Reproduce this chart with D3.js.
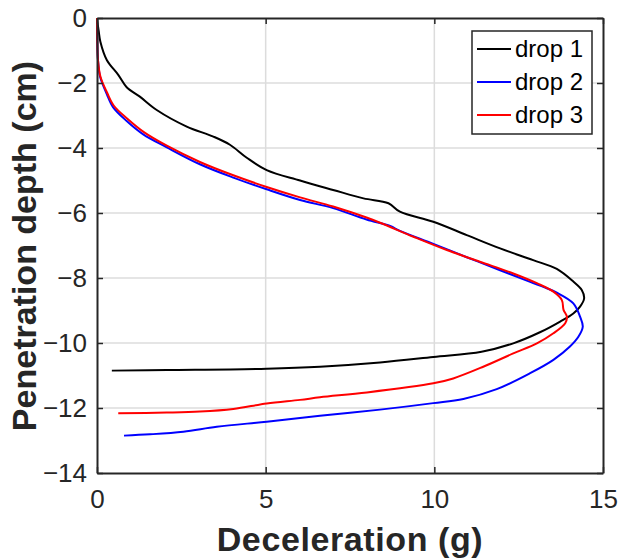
<!DOCTYPE html>
<html>
<head>
<meta charset="utf-8">
<script src="https://cdn.jsdelivr.net/npm/d3@7"></script>
<style>
  body { margin: 0; background: #fff; }
  svg { display: block; font-family: "Liberation Sans", Arial, sans-serif; }
</style>
</head>
<body>
<div id="chart"></div>
<script>
// deceleration (g), penetration depth (cm)
var drop1 = [[0,0],[0.05,-0.4],[0.1,-0.73],[0.29,-1.29],[0.63,-1.75],[0.88,-2.13],[1.27,-2.42],[1.77,-2.83],
  [2.66,-3.34],[3.45,-3.65],[3.94,-3.9],[4.44,-4.3],[5.03,-4.68],[6.02,-5.0],[7.0,-5.29],[7.9,-5.55],
  [8.64,-5.7],[8.98,-5.96],[9.97,-6.27],[10.96,-6.68],[11.95,-7.09],[12.93,-7.45],[13.63,-7.72],[14.12,-8.11],
  [14.37,-8.37],[14.44,-8.63],[14.32,-8.88],[14.12,-9.09],[13.73,-9.34],[13.13,-9.67],[12.34,-10.01],
  [11.4,-10.27],[9.97,-10.43],[8.39,-10.6],[6.61,-10.73],[5.03,-10.79],[2.07,-10.83],[0.44,-10.85]];
var drop2 = [[0,0],[0.01,-0.8],[0.03,-1.3],[0.09,-1.8],[0.29,-2.34],[0.48,-2.75],[0.88,-3.17],[1.37,-3.58],
  [2.07,-3.98],[3.05,-4.5],[4.04,-4.91],[5.03,-5.27],[6.02,-5.6],[7.0,-5.85],[7.99,-6.2],[8.69,-6.4],
  [8.98,-6.55],[9.97,-6.95],[10.96,-7.36],[11.95,-7.76],[12.84,-8.12],[13.3,-8.3],[13.63,-8.45],[14.12,-8.78],
  [14.32,-9.19],[14.4,-9.5],[14.27,-9.81],[14.02,-10.11],[13.53,-10.52],[12.84,-10.93],[11.85,-11.42],
  [10.86,-11.72],[9.97,-11.85],[8.39,-12.05],[6.61,-12.24],[5.03,-12.42],[3.55,-12.58],[2.56,-12.73],
  [1.57,-12.81],[0.8,-12.85]];
var drop3 = [[0,0],[0.01,-0.8],[0.03,-1.3],[0.1,-1.8],[0.3,-2.3],[0.5,-2.7],[0.9,-3.1],[1.4,-3.52],
  [2.07,-3.93],[3.05,-4.43],[4.04,-4.84],[5.03,-5.2],[6.02,-5.52],[7.0,-5.8],[7.99,-6.14],[8.39,-6.3],
  [9.38,-6.73],[10.37,-7.14],[11.35,-7.5],[12.34,-7.86],[13.04,-8.16],[13.53,-8.42],[13.78,-8.68],
  [13.83,-8.98],[13.93,-9.19],[13.88,-9.39],[13.53,-9.7],[13.04,-10.01],[12.34,-10.32],[11.45,-10.73],
  [10.56,-11.09],[9.97,-11.24],[8.0,-11.52],[6.61,-11.67],[6.02,-11.75],[5.03,-11.86],[4.04,-12.03],
  [3.05,-12.11],[2.07,-12.14],[0.63,-12.16]];

var seriesNames = ["drop 1", "drop 2", "drop 3"];
var seriesColors = ["#000000", "#0000ff", "#ff0000"];
var xTicks = [0, 5, 10, 15];
var yTicks = [0, -2, -4, -6, -8, -10, -12, -14];

var W = 619, H = 559;
var m = {l: 97, r: 603, t: 18, b: 473};
var ink = "#262626";

var svg = d3.select("#chart").append("svg").attr("width", W).attr("height", H);

var x = d3.scaleLinear().domain([0, 15]).range([m.l, m.r]);
var y = d3.scaleLinear().domain([-14, 0]).range([m.b, m.t]);

// grid
var grid = svg.append("g");
grid.selectAll(".gx").data(xTicks.slice(1, -1)).enter().append("line")
  .attr("x1", d => x(d)).attr("x2", d => x(d)).attr("y1", m.t).attr("y2", m.b)
  .attr("stroke", "#dcdcdc").attr("stroke-width", 1.5);
grid.selectAll(".gy").data(yTicks.slice(1, -1)).enter().append("line")
  .attr("y1", d => y(d)).attr("y2", d => y(d)).attr("x1", m.l).attr("x2", m.r)
  .attr("stroke", "#dcdcdc").attr("stroke-width", 1.5);

// curves
var line = d3.line().x(d => x(d[0])).y(d => y(d[1])).curve(d3.curveCatmullRom.alpha(0.5));
[drop1, drop2, drop3].forEach(function(s, i) {
  svg.append("path").datum(s).attr("d", line)
    .attr("fill", "none").attr("stroke", seriesColors[i]).attr("stroke-width", 2)
    .attr("stroke-linejoin", "round");
});

// axes, box style with inward ticks
var fmt = d3.format("d");
function styleAxis(g) {
  g.select(".domain").attr("stroke", ink).attr("stroke-width", 2);
  g.selectAll(".tick line").attr("stroke", ink).attr("stroke-width", 1.5);
  g.selectAll("text").attr("fill", ink).style("font-size", "26px").style("font-family", "Liberation Sans, Arial, sans-serif");
}
svg.append("g").attr("transform", "translate(0," + m.b + ")")
  .call(d3.axisBottom(x).tickValues(xTicks).tickFormat(fmt).tickSizeInner(-6).tickSizeOuter(0).tickPadding(17))
  .call(styleAxis);
svg.append("g").attr("transform", "translate(" + m.l + ",0)")
  .call(d3.axisLeft(y).tickValues(yTicks).tickFormat(fmt).tickSizeInner(-6).tickSizeOuter(0).tickPadding(10))
  .call(styleAxis);
svg.append("g").attr("transform", "translate(0," + m.t + ")")
  .call(d3.axisTop(x).tickValues(xTicks).tickFormat("").tickSizeInner(-6).tickSizeOuter(0))
  .call(styleAxis);
svg.append("g").attr("transform", "translate(" + m.r + ",0)")
  .call(d3.axisRight(y).tickValues(yTicks).tickFormat("").tickSizeInner(-6).tickSizeOuter(0))
  .call(styleAxis);

// axis titles
svg.append("text").attr("x", (m.l + m.r) / 2).attr("y", 551)
  .attr("text-anchor", "middle").attr("fill", ink)
  .style("font-size", "34px").style("font-weight", "bold").style("letter-spacing", "0.6px")
  .text("Deceleration (g)");
svg.append("text").attr("transform", "translate(36,246) rotate(-90)")
  .attr("text-anchor", "middle").attr("fill", ink)
  .style("font-size", "34px").style("font-weight", "bold")
  .text("Penetration depth (cm)");

// legend
var lg = svg.append("g").attr("transform", "translate(472,31)");
lg.append("rect").attr("width", 120).attr("height", 103)
  .attr("fill", "#fff").attr("stroke", ink).attr("stroke-width", 1.5);
seriesNames.forEach(function(n, i) {
  var cy = 18 + i * 33;
  lg.append("line").attr("x1", 5).attr("x2", 39).attr("y1", cy).attr("y2", cy)
    .attr("stroke", seriesColors[i]).attr("stroke-width", 2);
  lg.append("text").attr("x", 43).attr("y", cy + 8).attr("fill", "#000")
    .style("font-size", "24px").text(n);
});
</script>
</body>
</html>
